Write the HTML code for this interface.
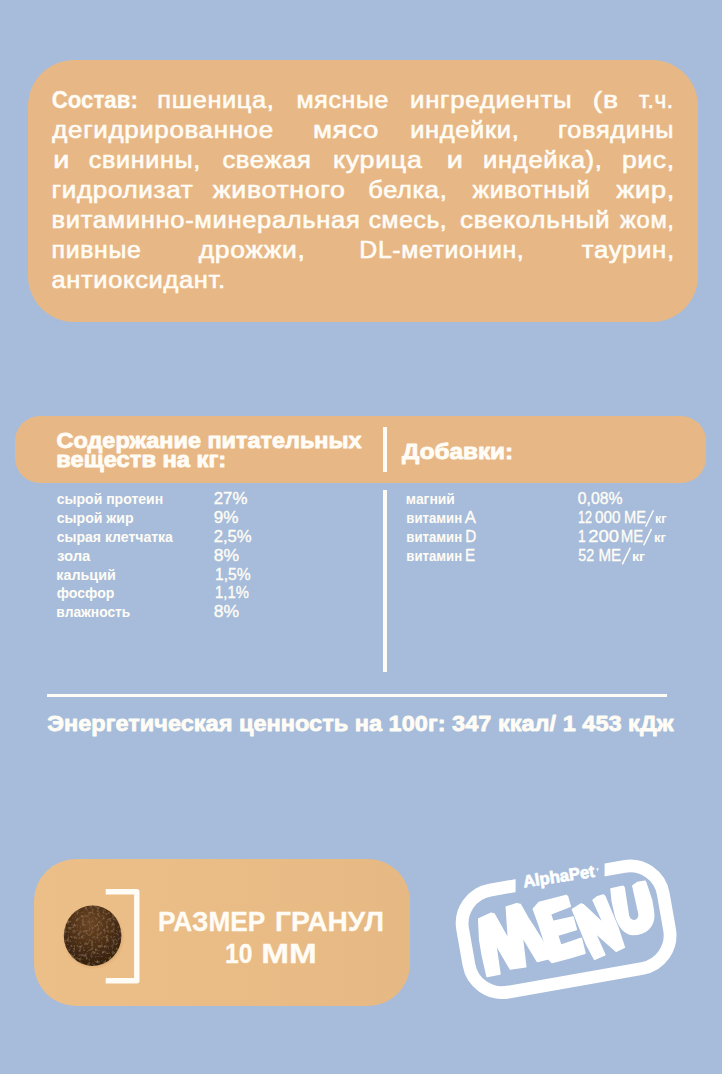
<!DOCTYPE html>
<html lang="ru"><head><meta charset="utf-8">
<style>
*{margin:0;padding:0;box-sizing:border-box}
html,body{width:722px;height:1074px;overflow:hidden}
body{background:#a6bcda;font-family:"Liberation Sans",sans-serif;color:#fffcf6;position:relative}
.abs{position:absolute}
.or{position:absolute;background:#e7b886}
.w{position:absolute;background:#fffcf6}
svg text{font-family:"Liberation Sans",sans-serif;fill:#fffcf6;white-space:pre}
</style></head><body>
<div class="or" style="left:28.3px;top:59.8px;width:670.2px;height:262px;border-radius:46px"></div>
<div class="or" style="left:15.2px;top:416.3px;width:691.3px;height:66.7px;border-radius:25px"></div>
<div class="w" style="left:383px;top:427px;width:4px;height:45px"></div>
<div class="w" style="left:383px;top:490px;width:4px;height:182px"></div>
<div class="w" style="left:47px;top:694px;width:620px;height:3px"></div>
<div class="or" style="left:33.7px;top:859.4px;width:376.2px;height:147px;border-radius:42px;background:linear-gradient(90deg,#ecbe88 0%,#eabc86 45%,#e6b883 100%)"></div>
<svg class="abs" style="left:0;top:0" width="722" height="1074" viewBox="0 0 722 1074">
<defs>
<radialGradient id="kg" cx="0.46" cy="0.3" r="0.8"><stop offset="0" stop-color="#6b4524"/><stop offset="0.45" stop-color="#4f3018"/><stop offset="0.85" stop-color="#35200f"/><stop offset="1" stop-color="#2c1a0d"/></radialGradient>
<radialGradient id="ks" cx="0.5" cy="0.5" r="0.5"><stop offset="0.8" stop-color="#b98545" stop-opacity="0.55"/><stop offset="1" stop-color="#d6a467" stop-opacity="0"/></radialGradient>
<filter id="kn" x="-5%" y="-5%" width="110%" height="110%"><feTurbulence type="fractalNoise" baseFrequency="0.33" numOctaves="3" seed="7" result="n"/><feColorMatrix in="n" type="matrix" values="0 0 0 0 0.56  0 0 0 0 0.4  0 0 0 0 0.22  0 0 0 0.75 -0.37" result="sp"/><feComposite in="sp" in2="SourceGraphic" operator="in" result="spc"/><feMerge><feMergeNode in="SourceGraphic"/><feMergeNode in="spc"/></feMerge></filter>
</defs>
<ellipse cx="93.4" cy="937.6" rx="31.5" ry="32" fill="url(#ks)"/>
<ellipse cx="92.6" cy="935.7" rx="28.8" ry="30.2" fill="url(#kg)" filter="url(#kn)"/>
<path d="M105.7,891.7 H136.8 V980.8 H105.7" fill="none" stroke="#fffcf6" stroke-width="5.4" stroke-linejoin="round"/>
<g id="logo" fill="#ffffff">
<clipPath id="gapclip"><path clip-rule="evenodd" d="M430,830 H722 V1040 H430 Z M515.6,855 L604.6,845 L604.6,885 L515.6,900 Z"/></clipPath>
<g clip-path="url(#gapclip)"><g transform="rotate(-10 566.1 929.3)">
<rect x="464.25" y="877.5" width="203.7" height="103.6" rx="33.75" ry="33.75" fill="none" stroke="#ffffff" stroke-width="12.8"/>
</g></g>
<g stroke="#ffffff" stroke-width="1.5" stroke-linejoin="round">
<!-- M stem -->
<path d="M478.7,918.9 L491.2,913.3 L494.3,914.3 L495.6,943.9 L500,974.1 L487.1,976.6 L482.2,955 L479.7,940 Z"/>
<!-- M zigzag -->
<path d="M494.3,914.3 L508.5,939.6 L506.3,907 L516.6,903.7 L520.4,904.5 L528,918.2 L532.5,925 L546.2,947 L548.3,958.7 L537.4,961.6 L522.1,936 L525.8,966.8 L510.4,969.1 L495.6,943.9 Z"/>
<!-- E -->
<path d="M533.3,909.1 L539,902.6 L566.2,895.4 L567.6,896.8 L570.3,906.3 L550.4,914.1 L552.9,921.6 L573,916.9 L576.4,929.6 L557.6,935.2 L560.8,945.2 L575,940.4 L581.3,938.3 L585,953.2 L570,957.7 L552,962.6 L548.3,958.7 L546.2,947 L539.1,925 Z"/>
<!-- N -->
<path d="M572.4,909.4 L581.2,903.9 L583.1,904.6 L603.7,923.7 L593.1,900.1 L597.6,896.6 L603.2,894.9 L604.9,896.6 L610.1,909.1 L617.7,927.1 L624.4,947.4 L616.1,951.2 L594.9,932.5 L604.9,954.9 L594.6,959.3 L586.8,945 L576.6,920 Z"/>
<!-- U -->
<path d="M610.8,889.1 L622.9,886.2 L624.1,887.5 L628.3,914.9 C628.8,918 631,920.7 634.1,920.7 C637.5,920.7 639.5,917.5 639.1,914.1 L632.8,885.8 L637.4,882.5 L644.9,881.2 L645.7,882.5 L651.5,899.9 C653,908 654.2,913 653.6,918.2 C652.5,926 647,934.6 633,934.6 C624,934 618.5,925 615.6,916 L612.2,900.8 L611.1,889.7 Z"/>
</g>
<g id="tm" transform="rotate(-8.6 597.2 870.2)"><rect x="596.4" y="868.6" width="2.6" height="0.8"/><rect x="597.3" y="868.6" width="0.8" height="2.6"/></g>
</g>

<text transform="translate(51.69,108.40) scale(0.9435,1)" font-size="23.6" font-weight="700" stroke="#fffcf6" stroke-width="0.3" stroke-linejoin="round">Состав:</text>
<text transform="translate(157.24,108.40) scale(1.0757,1)" font-size="23.6" letter-spacing="0.6" stroke="#fffcf6" stroke-width="0.6" stroke-linejoin="round">пшеница,</text>
<text transform="translate(296.47,108.40) scale(1.0578,1)" font-size="23.6" letter-spacing="0.6" stroke="#fffcf6" stroke-width="0.6" stroke-linejoin="round">мясные</text>
<text transform="translate(410.11,108.40) scale(1.0947,1)" font-size="23.6" letter-spacing="0.6" stroke="#fffcf6" stroke-width="0.6" stroke-linejoin="round">ингредиенты</text>
<text transform="translate(592.84,108.40) scale(1.2051,1)" font-size="23.6" letter-spacing="0.6" stroke="#fffcf6" stroke-width="0.6" stroke-linejoin="round">(в</text>
<text transform="translate(639.11,108.40) scale(0.9622,1)" font-size="23.6" letter-spacing="0.6" stroke="#fffcf6" stroke-width="0.6" stroke-linejoin="round">т.ч.</text>
<text transform="translate(52.35,138.40) scale(1.0981,1)" font-size="23.6" letter-spacing="0.6" stroke="#fffcf6" stroke-width="0.6" stroke-linejoin="round">дегидрированное</text>
<text transform="translate(312.88,138.40) scale(1.1711,1)" font-size="23.6" letter-spacing="0.6" stroke="#fffcf6" stroke-width="0.6" stroke-linejoin="round">мясо</text>
<text transform="translate(410.13,138.40) scale(1.0808,1)" font-size="23.6" letter-spacing="0.6" stroke="#fffcf6" stroke-width="0.6" stroke-linejoin="round">индейки,</text>
<text transform="translate(557.94,138.40) scale(1.0766,1)" font-size="23.6" letter-spacing="0.6" stroke="#fffcf6" stroke-width="0.6" stroke-linejoin="round">говядины</text>
<text transform="translate(53.26,168.40) scale(1.2200,1)" font-size="23.6" letter-spacing="0.6" stroke="#fffcf6" stroke-width="0.6" stroke-linejoin="round">и</text>
<text transform="translate(88.83,168.40) scale(1.0657,1)" font-size="23.6" letter-spacing="0.6" stroke="#fffcf6" stroke-width="0.6" stroke-linejoin="round">свинины,</text>
<text transform="translate(222.41,168.40) scale(1.0851,1)" font-size="23.6" letter-spacing="0.6" stroke="#fffcf6" stroke-width="0.6" stroke-linejoin="round">свежая</text>
<text transform="translate(332.99,168.40) scale(1.1391,1)" font-size="23.6" letter-spacing="0.6" stroke="#fffcf6" stroke-width="0.6" stroke-linejoin="round">курица</text>
<text transform="translate(446.76,168.40) scale(1.2200,1)" font-size="23.6" letter-spacing="0.6" stroke="#fffcf6" stroke-width="0.6" stroke-linejoin="round">и</text>
<text transform="translate(483.12,168.40) scale(1.0851,1)" font-size="23.6" letter-spacing="0.6" stroke="#fffcf6" stroke-width="0.6" stroke-linejoin="round">индейка),</text>
<text transform="translate(621.89,168.40) scale(1.1256,1)" font-size="23.6" letter-spacing="0.6" stroke="#fffcf6" stroke-width="0.6" stroke-linejoin="round">рис,</text>
<text transform="translate(51.49,198.40) scale(1.1048,1)" font-size="23.6" letter-spacing="0.6" stroke="#fffcf6" stroke-width="0.6" stroke-linejoin="round">гидролизат</text>
<text transform="translate(212.81,198.40) scale(1.1310,1)" font-size="23.6" letter-spacing="0.6" stroke="#fffcf6" stroke-width="0.6" stroke-linejoin="round">животного</text>
<text transform="translate(368.21,198.40) scale(1.0781,1)" font-size="23.6" letter-spacing="0.6" stroke="#fffcf6" stroke-width="0.6" stroke-linejoin="round">белка,</text>
<text transform="translate(472.52,198.40) scale(1.0463,1)" font-size="23.6" letter-spacing="0.6" stroke="#fffcf6" stroke-width="0.6" stroke-linejoin="round">животный</text>
<text transform="translate(616.21,198.40) scale(1.1504,1)" font-size="23.6" letter-spacing="0.6" stroke="#fffcf6" stroke-width="0.6" stroke-linejoin="round">жир,</text>
<text transform="translate(51.53,228.40) scale(1.0831,1)" font-size="23.6" letter-spacing="0.6" stroke="#fffcf6" stroke-width="0.6" stroke-linejoin="round">витаминно-минеральная</text>
<text transform="translate(368.65,228.40) scale(1.0437,1)" font-size="23.6" letter-spacing="0.6" stroke="#fffcf6" stroke-width="0.6" stroke-linejoin="round">смесь,</text>
<text transform="translate(459.99,228.40) scale(1.1090,1)" font-size="23.6" letter-spacing="0.6" stroke="#fffcf6" stroke-width="0.6" stroke-linejoin="round">свекольный</text>
<text transform="translate(620.12,228.40) scale(1.0060,1)" font-size="23.6" letter-spacing="0.6" stroke="#fffcf6" stroke-width="0.6" stroke-linejoin="round">жом,</text>
<text transform="translate(51.57,258.40) scale(1.0547,1)" font-size="23.6" letter-spacing="0.6" stroke="#fffcf6" stroke-width="0.6" stroke-linejoin="round">пивные</text>
<text transform="translate(198.64,258.40) scale(1.1224,1)" font-size="23.6" letter-spacing="0.6" stroke="#fffcf6" stroke-width="0.6" stroke-linejoin="round">дрожжи,</text>
<text transform="translate(359.36,258.40) scale(1.0531,1)" font-size="23.6" letter-spacing="0.6" stroke="#fffcf6" stroke-width="0.6" stroke-linejoin="round">DL-метионин,</text>
<text transform="translate(581.86,258.40) scale(1.0929,1)" font-size="23.6" letter-spacing="0.6" stroke="#fffcf6" stroke-width="0.6" stroke-linejoin="round">таурин,</text>
<text transform="translate(51.52,288.40) scale(1.0804,1)" font-size="23.6" letter-spacing="0.6" stroke="#fffcf6" stroke-width="0.6" stroke-linejoin="round">антиоксидант.</text>
<text transform="translate(56.54,447.50) scale(1.0421,1)" font-size="22.5" font-weight="700" stroke="#fffcf6" stroke-width="0.9" stroke-linejoin="round">Содержание питательных</text>
<text transform="translate(56.35,467.00) scale(1.0531,1)" font-size="22.5" font-weight="700" stroke="#fffcf6" stroke-width="0.9" stroke-linejoin="round">веществ на кг:</text>
<text transform="translate(402.09,459.10) scale(1.0793,1)" font-size="22.5" font-weight="700" stroke="#fffcf6" stroke-width="0.9" stroke-linejoin="round">Добавки:</text>
<text transform="translate(56.75,503.90) scale(1.0025,1)" font-size="14.0" font-weight="700">сырой протеин</text>
<text transform="translate(213.65,503.90) scale(1.0672,1)" font-size="15.8" stroke="#fffcf6" stroke-width="0.35" stroke-linejoin="round">27%</text>
<text transform="translate(56.75,522.80) scale(1.0064,1)" font-size="14.0" font-weight="700">сырой жир</text>
<text transform="translate(213.70,522.80) scale(1.0817,1)" font-size="15.8" stroke="#fffcf6" stroke-width="0.35" stroke-linejoin="round">9%</text>
<text transform="translate(56.75,541.70) scale(1.0010,1)" font-size="14.0" font-weight="700">сырая клетчатка</text>
<text transform="translate(213.66,541.70) scale(1.0560,1)" font-size="15.8" stroke="#fffcf6" stroke-width="0.35" stroke-linejoin="round">2,5%</text>
<text transform="translate(56.91,560.60) scale(1.0632,1)" font-size="14.0" font-weight="700">зола</text>
<text transform="translate(213.74,560.60) scale(1.1114,1)" font-size="15.8" stroke="#fffcf6" stroke-width="0.35" stroke-linejoin="round">8%</text>
<text transform="translate(56.31,579.50) scale(1.0234,1)" font-size="14.0" font-weight="700">кальций</text>
<text transform="translate(215.01,579.50) scale(0.9898,1)" font-size="15.8" stroke="#fffcf6" stroke-width="0.35" stroke-linejoin="round">1,5%</text>
<text transform="translate(56.74,598.40) scale(1.0043,1)" font-size="14.0" font-weight="700">фосфор</text>
<text transform="translate(215.07,598.40) scale(0.9402,1)" font-size="15.8" stroke="#fffcf6" stroke-width="0.35" stroke-linejoin="round">1,1%</text>
<text transform="translate(56.34,617.30) scale(0.9857,1)" font-size="14.0" font-weight="700">влажность</text>
<text transform="translate(213.74,617.30) scale(1.1114,1)" font-size="15.8" stroke="#fffcf6" stroke-width="0.35" stroke-linejoin="round">8%</text>
<text transform="translate(405.83,503.80) scale(0.9912,1)" font-size="14.0" font-weight="700">магний</text>
<text transform="translate(406.28,522.80) scale(0.9420,1)" font-size="14.0" font-weight="700">витамин</text>
<text transform="translate(464.87,522.80) scale(0.9618,1)" font-size="17.4" stroke="#fffcf6" stroke-width="0.35" stroke-linejoin="round">A</text>
<text transform="translate(406.28,541.80) scale(0.9420,1)" font-size="14.0" font-weight="700">витамин</text>
<text transform="translate(465.21,541.80) scale(0.8800,1)" font-size="17.4" stroke="#fffcf6" stroke-width="0.35" stroke-linejoin="round">D</text>
<text transform="translate(406.28,560.50) scale(0.9420,1)" font-size="14.0" font-weight="700">витамин</text>
<text transform="translate(464.94,560.50) scale(0.8800,1)" font-size="17.4" stroke="#fffcf6" stroke-width="0.35" stroke-linejoin="round">E</text>
<text transform="translate(577.78,503.80) scale(0.9996,1)" font-size="15.8" stroke="#fffcf6" stroke-width="0.35" stroke-linejoin="round">0,08%</text>
<text transform="translate(577.96,522.80) scale(0.8000,1)" font-size="15.8" stroke="#fffcf6" stroke-width="0.35" stroke-linejoin="round">12</text>
<text transform="translate(594.90,522.80) scale(0.9672,1)" font-size="15.8" stroke="#fffcf6" stroke-width="0.35" stroke-linejoin="round">000</text>
<text transform="translate(577.99,541.80) scale(0.8800,1)" font-size="15.8" stroke="#fffcf6" stroke-width="0.35" stroke-linejoin="round">1</text>
<text transform="translate(588.37,541.80) scale(1.1664,1)" font-size="15.8" stroke="#fffcf6" stroke-width="0.35" stroke-linejoin="round">200</text>
<text transform="translate(578.33,560.50) scale(0.9040,1)" font-size="15.8" stroke="#fffcf6" stroke-width="0.35" stroke-linejoin="round">52</text>
<text transform="translate(624.10,522.80) scale(0.8506,1)" font-size="17.2" stroke="#fffcf6" stroke-width="0.35" stroke-linejoin="round">МЕ</text>
<text transform="translate(654.92,522.80) scale(0.9319,1)" font-size="13.6" font-weight="700">кг</text>
<line x1="653.4" y1="510.2" x2="645.6" y2="526.7" stroke="#fffcf6" stroke-width="1.5"/>
<text transform="translate(620.66,541.80) scale(0.8760,1)" font-size="17.2" stroke="#fffcf6" stroke-width="0.35" stroke-linejoin="round">МЕ</text>
<text transform="translate(653.90,541.80) scale(0.9587,1)" font-size="13.6" font-weight="700">кг</text>
<line x1="651.5" y1="528.9" x2="643.7" y2="545.4" stroke="#fffcf6" stroke-width="1.5"/>
<text transform="translate(598.46,560.50) scale(0.8802,1)" font-size="17.2" stroke="#fffcf6" stroke-width="0.35" stroke-linejoin="round">МЕ</text>
<text transform="translate(631.90,560.50) scale(1.0573,1)" font-size="13.6" font-weight="700">кг</text>
<line x1="630.4" y1="547.6" x2="622.3" y2="564.4" stroke="#fffcf6" stroke-width="1.5"/>
<text transform="translate(47.18,730.50) scale(1.0379,1)" font-size="22.7" font-weight="700" stroke="#fffcf6" stroke-width="0.8" stroke-linejoin="round">Энергетическая ценность на 100г: 347 ккал/ 1 453 кДж</text>
<text transform="translate(157.94,931.20) scale(0.9613,1)" font-size="27.3" font-weight="700" stroke="#fffcf6" stroke-width="0.3" stroke-linejoin="round">РАЗМЕР</text>
<text transform="translate(274.92,931.20) scale(1.0317,1)" font-size="27.3" font-weight="700" stroke="#fffcf6" stroke-width="0.3" stroke-linejoin="round">ГРАНУЛ</text>
<text transform="translate(225.05,963.40) scale(0.9043,1)" font-size="27.3" font-weight="700" stroke="#fffcf6" stroke-width="0.3" stroke-linejoin="round">10</text>
<text transform="translate(261.35,963.40) scale(1.2200,1)" font-size="27.3" font-weight="700" stroke="#fffcf6" stroke-width="0.3" stroke-linejoin="round">ММ</text>
<text transform="rotate(-8.6,524.3,887.4) translate(523.88,887.40) scale(0.9814,1)" font-size="17.0" font-weight="700" stroke="#ffffff" stroke-width="0.7" stroke-linejoin="round" style="fill:#ffffff">AlphaPet</text>
</svg>
</body></html>
